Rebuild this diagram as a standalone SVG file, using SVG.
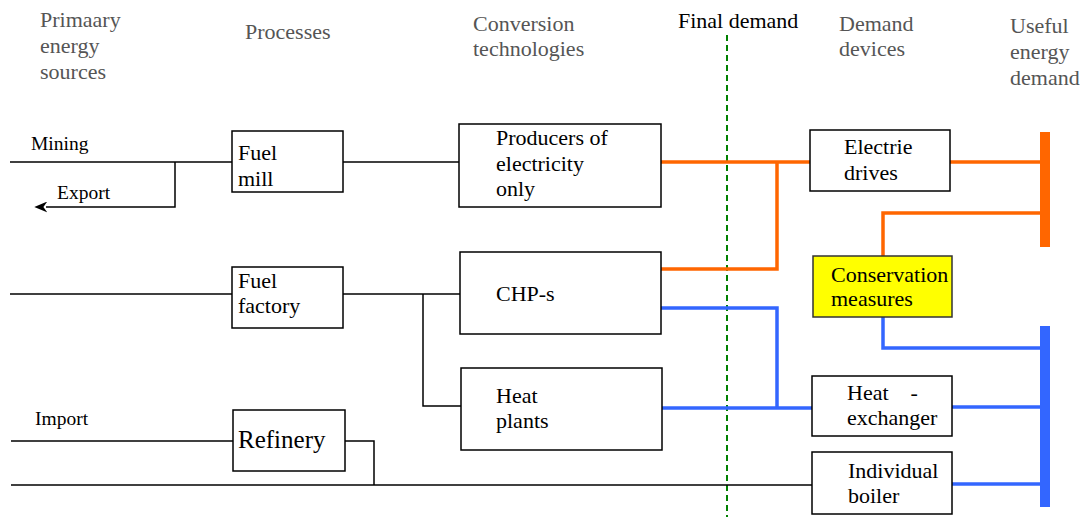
<svg xmlns="http://www.w3.org/2000/svg" width="1085" height="517" viewBox="0 0 1085 517">
<style>
text{font-family:'Liberation Serif','DejaVu Serif',serif;fill:#000}
.hdr{font-size:22px;fill:#555}
.lbl{font-size:19.5px}
.box{fill:#fff;stroke:#000;stroke-width:1.5}
.bt{font-size:22px}
.k{fill:none;stroke:#000;stroke-width:1.5}
.o{fill:none;stroke:#FF6600;stroke-width:3.5}
.b{fill:none;stroke:#3366FF;stroke-width:3.5}
</style>
<defs>
<marker id="arr" viewBox="0 0 10 10" refX="1" refY="5" markerWidth="13" markerHeight="11" orient="auto" markerUnits="userSpaceOnUse" preserveAspectRatio="none">
<path d="M10,5 L0,0 L3,5 L0,10 Z" fill="#000"/>
</marker>
</defs>
<g id="headers">
<text class="hdr" x="40" y="27">Primaary</text>
<text class="hdr" x="40" y="53">energy</text>
<text class="hdr" x="40" y="79">sources</text>
<text class="hdr" x="245" y="39">Processes</text>
<text class="hdr" x="473" y="31">Conversion</text>
<text class="hdr" x="473" y="56">technologies</text>
<text class="hdr" x="678" y="28" style="fill:#000">Final demand</text>
<text class="hdr" x="839" y="31">Demand</text>
<text class="hdr" x="839" y="56">devices</text>
<text class="hdr" x="1010" y="33">Useful</text>
<text class="hdr" x="1010" y="59">energy</text>
<text class="hdr" x="1010" y="85">demand</text>
</g>
<g id="final-demand-line">
<line x1="727" y1="35" x2="727" y2="517" stroke="#008000" stroke-width="2" stroke-dasharray="6,4"/>
</g>
<g id="connectors">
<text class="lbl" x="31" y="150">Mining</text>
<text class="lbl" x="57" y="199">Export</text>
<text class="lbl" x="35" y="425">Import</text>
<path class="k" d="M10,162 H232"/>
<path class="k" d="M175,162 V207 H46" marker-end="url(#arr)"/>
<path class="k" d="M343,162 H459"/>
<path class="k" d="M10,294 H232"/>
<path class="k" d="M343,294 H460"/>
<path class="k" d="M423,294 V406 H461"/>
<path class="k" d="M11,441 H233"/>
<path class="k" d="M345,441 H374 V485"/>
<path class="k" d="M11,485 H812"/>
<path class="o" d="M661,162 H810"/>
<path class="o" d="M661,269 H777 V162"/>
<path class="o" d="M950,162 H1040"/>
<path class="o" d="M883,256 V213 H1040"/>
<path class="b" d="M659,308 H777 V408"/>
<path class="b" d="M662,408 H813"/>
<path class="b" d="M952,407 H1040"/>
<path class="b" d="M883,317 V348 H1040"/>
<path class="b" d="M952,484 H1040"/>
<rect x="1040" y="132" width="10" height="115" fill="#FF6600"/>
<rect x="1040" y="326" width="10" height="181" fill="#3366FF"/>
</g>
<g id="fuel-mill">
<rect class="box" x="232" y="131" width="111" height="61"/>
<text class="bt" x="238" y="160">Fuel</text>
<text class="bt" x="238" y="186">mill</text>
</g>
<g id="fuel-factory">
<rect class="box" x="232" y="267" width="111" height="61"/>
<text class="bt" x="238" y="288">Fuel</text>
<text class="bt" x="238" y="313">factory</text>
</g>
<g id="refinery">
<rect class="box" x="233" y="410" width="112" height="61"/>
<text class="bt" x="238" y="448" style="font-size:25px">Refinery</text>
</g>
<g id="producers">
<rect class="box" x="459" y="124" width="202" height="83"/>
<text class="bt" x="496" y="145">Producers of</text>
<text class="bt" x="496" y="171">electricity</text>
<text class="bt" x="496" y="196">only</text>
</g>
<g id="chp">
<rect class="box" x="460" y="252" width="201" height="82"/>
<text class="bt" x="496" y="301">CHP-s</text>
</g>
<g id="heat-plants">
<rect class="box" x="461" y="368" width="201" height="82"/>
<text class="bt" x="496" y="403">Heat</text>
<text class="bt" x="496" y="428">plants</text>
</g>
<g id="electric-drives">
<rect class="box" x="810" y="130" width="140" height="61"/>
<text class="bt" x="844" y="154">Electrie</text>
<text class="bt" x="844" y="180">drives</text>
</g>
<g id="conservation">
<rect x="813" y="256" width="139" height="61" fill="#FFFF00" stroke="#333" stroke-width="1.5"/>
<text class="bt" x="831" y="282">Conservation</text>
<text class="bt" x="831" y="306">measures</text>
</g>
<g id="heat-exchanger">
<rect class="box" x="812" y="376" width="140" height="60"/>
<text class="bt" x="847" y="400" xml:space="preserve">Heat    -</text>
<text class="bt" x="847" y="425">exchanger</text>
</g>
<g id="boiler">
<rect class="box" x="812" y="452" width="140" height="62"/>
<text class="bt" x="848" y="478">Individual</text>
<text class="bt" x="848" y="503">boiler</text>
</g>
</svg>
